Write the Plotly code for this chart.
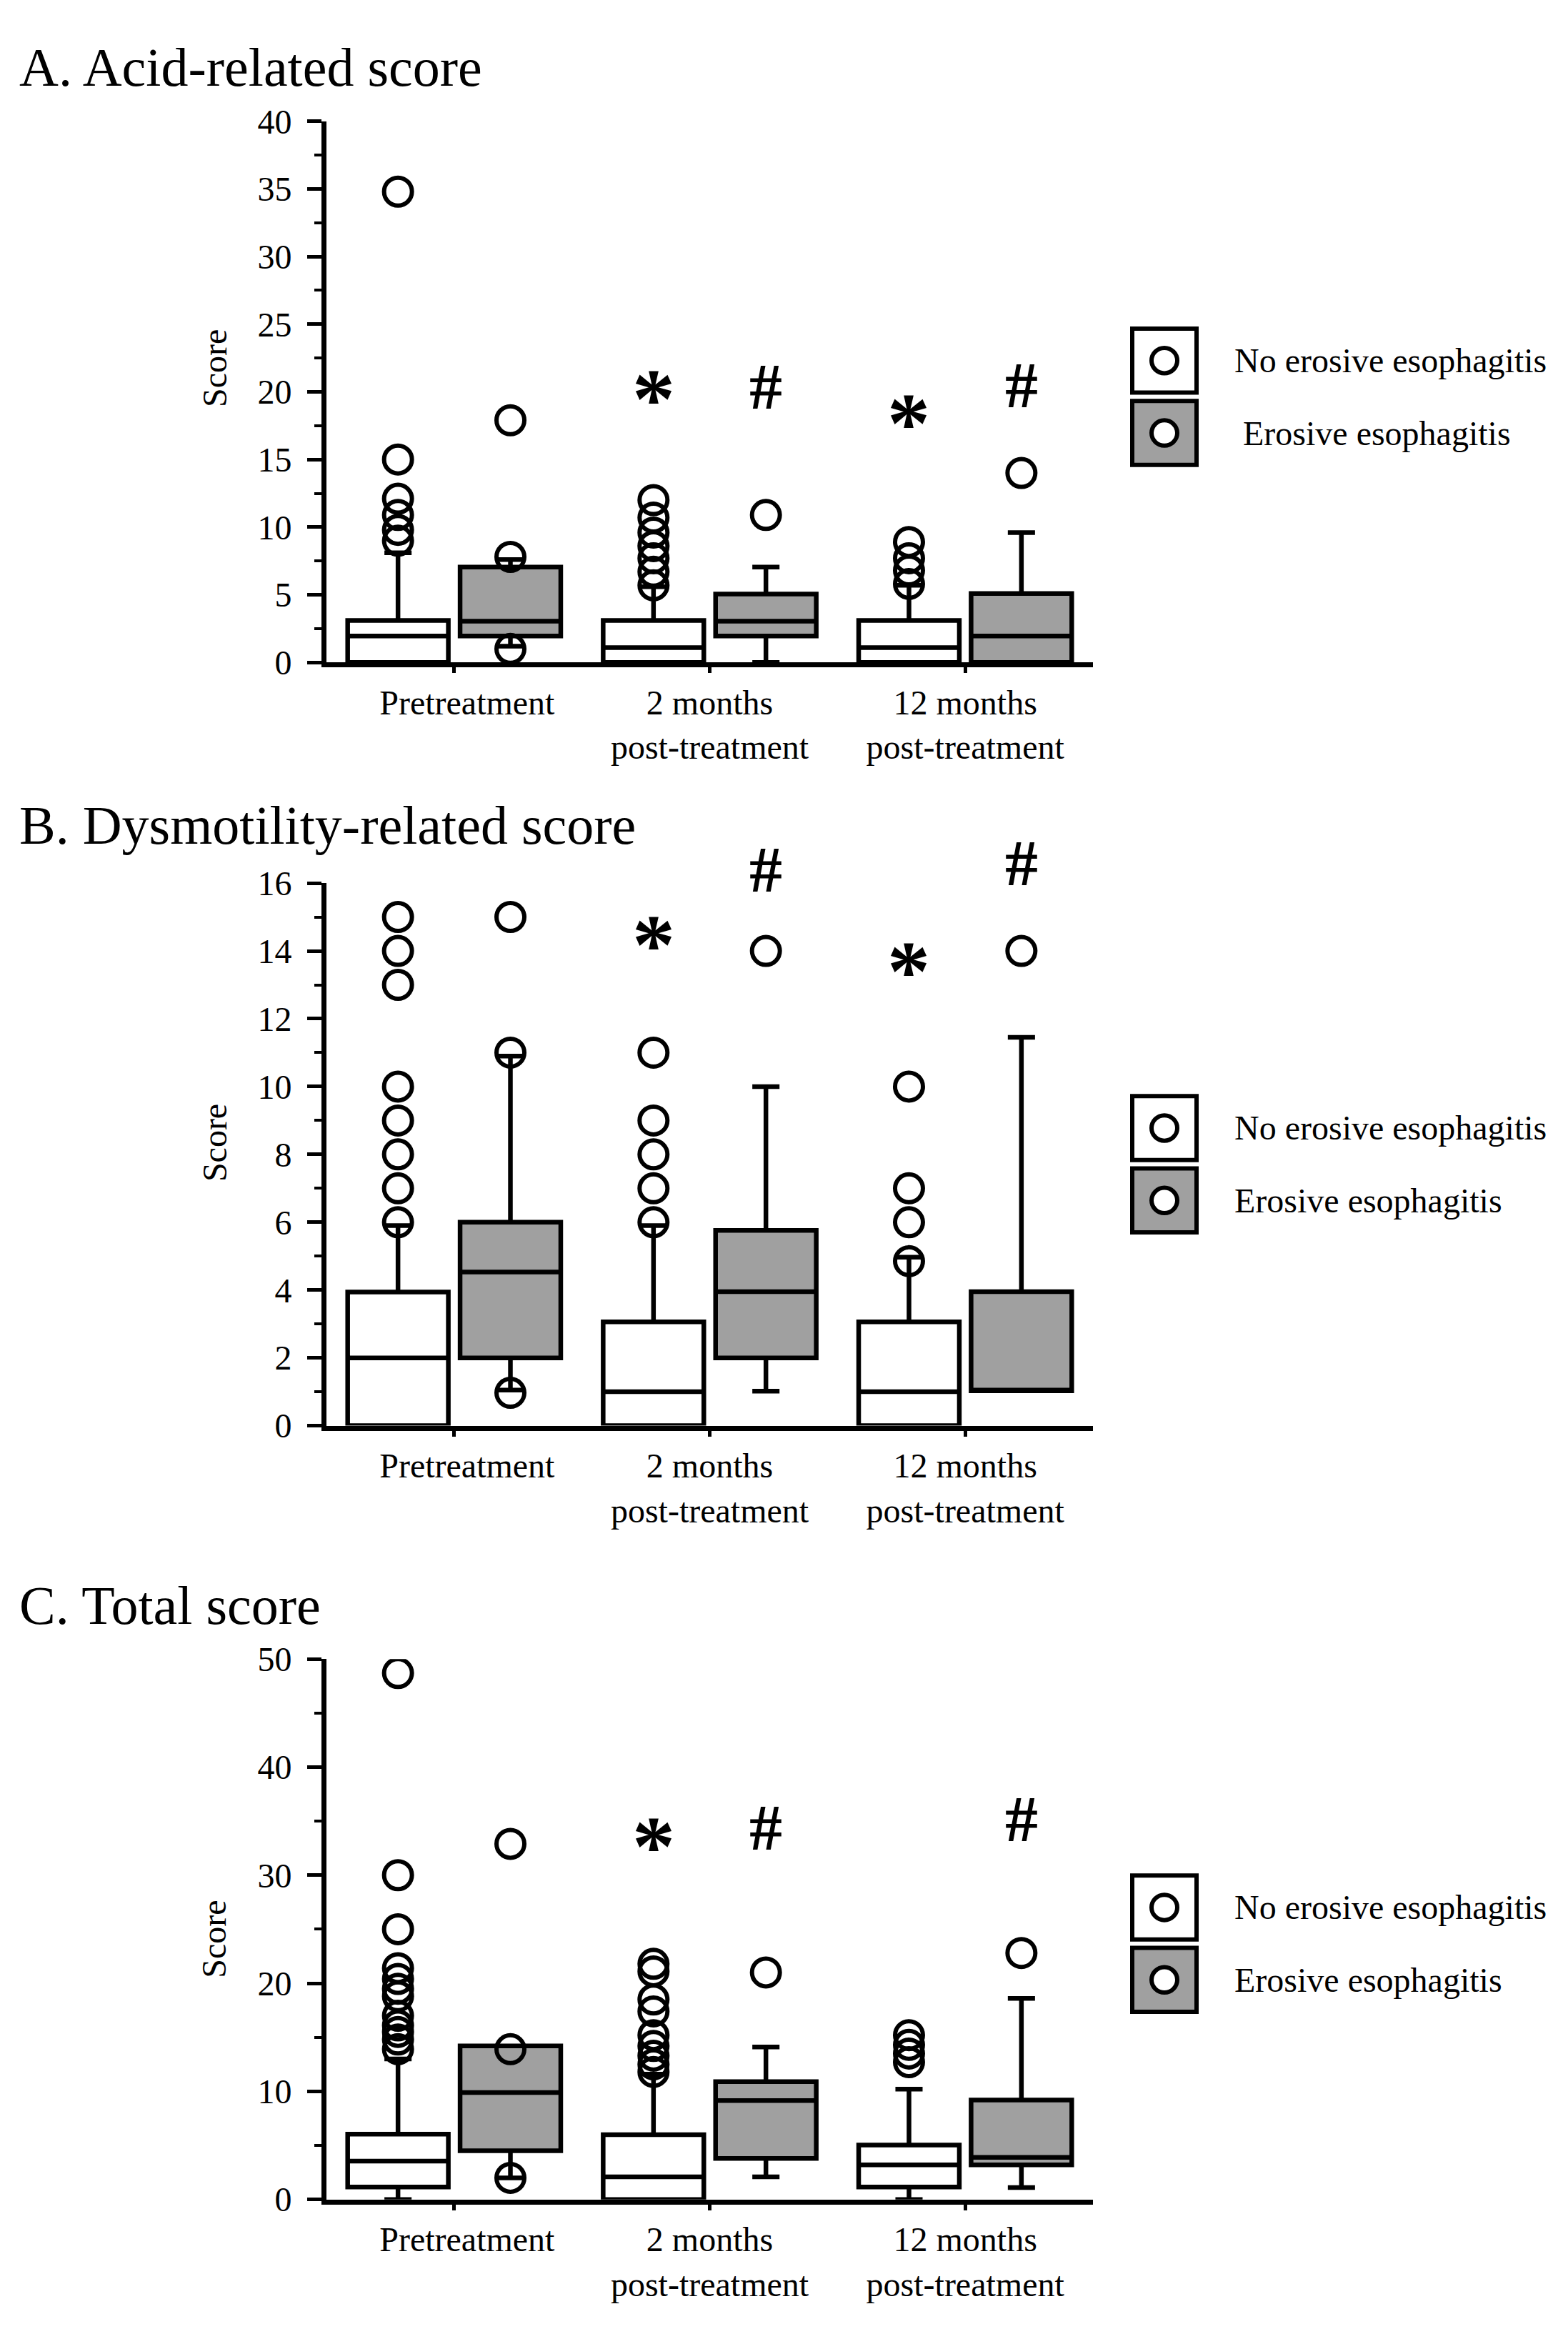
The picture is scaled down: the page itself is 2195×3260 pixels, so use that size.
import plotly.graph_objects as go

W, H = 2195, 3260

# ---------------- data ----------------
categories = ["\u00a0\u00a0\u00a0Pretreatment", "2 months<br>post-treatment", "12 months<br>post-treatment"]
series_names = ["No erosive esophagitis", "Erosive esophagitis"]

# Panel A: Acid-related score
a_no_q1 = [0, 0, 0]
a_no_median = [1.95, 1.1, 1.1]
a_no_q3 = [3.1, 3.1, 3.1]
a_no_lower = [0, 0, 0]
a_no_upper = [8.1, 5.6, 5.7]
a_no_outliers = [[9.0, 9.8, 10.9, 12.1, 15.0, 34.8],
                 [5.7, 6.7, 7.7, 8.6, 9.6, 10.7, 12.0],
                 [5.8, 6.8, 7.7, 8.9]]
a_ee_q1 = [1.95, 1.95, 0]
a_ee_median = [3.05, 3.05, 1.95]
a_ee_q3 = [7.05, 5.05, 5.1]
a_ee_lower = [1.2, 0, 0]
a_ee_upper = [7.6, 7.05, 9.6]
a_ee_outliers = [[1.0, 7.8, 17.9], [10.9], [14.0]]
a_star = [None, 20.2, 18.4]
a_hash = [None, 20.4, 20.5]

# Panel B: Dysmotility-related score
b_no_q1 = [0, 0, 0]
b_no_median = [2.0, 1.0, 1.0]
b_no_q3 = [3.94, 3.06, 3.06]
b_no_lower = [0, 0, 0]
b_no_upper = [5.9, 5.9, 4.97]
b_no_outliers = [[6, 7, 8, 9, 10, 13, 14, 15],
                 [6, 7, 8, 9, 11],
                 [4.85, 6, 7, 10]]
b_ee_q1 = [2.0, 2.0, 1.03]
b_ee_median = [4.53, 3.95, 1.03]
b_ee_q3 = [6.0, 5.76, 3.95]
b_ee_lower = [1.05, 1.02, 1.03]
b_ee_upper = [10.9, 10.0, 11.45]
b_ee_outliers = [[0.97, 11.0, 15.0], [14.0], [14.0]]
b_star = [None, 14.47, 13.7]
b_hash = [None, 16.4, 16.6]

# Panel C: Total score
c_no_q1 = [1.15, 0, 1.15]
c_no_median = [3.55, 2.1, 3.2]
c_no_q3 = [6.05, 6.0, 5.04]
c_no_lower = [0, 0, 0]
c_no_upper = [13.0, 11.6, 10.2]
c_no_outliers = [[13.9, 14.8, 15.5, 16.1, 17.0, 18.8, 19.5, 20.4, 21.4, 25.0, 30.0, 48.7],
                 [11.8, 12.5, 13.3, 14.2, 15.2, 17.4, 18.5, 21.1, 21.8],
                 [12.7, 13.5, 14.3, 15.2]]
c_ee_q1 = [4.5, 3.8, 3.2]
c_ee_median = [9.9, 9.15, 3.9]
c_ee_q3 = [14.2, 10.9, 9.2]
c_ee_lower = [2.0, 2.1, 1.1]
c_ee_upper = [14.2, 14.1, 18.6]
c_ee_outliers = [[2.0, 13.9, 32.9], [21.0], [22.8]]
c_star = [None, 33.6, None]
c_hash = [None, 34.4, 35.2]

panel_titles = ["A. Acid-related score", "B. Dysmotility-related score", "C. Total score"]
y_max = [40, 16, 50]
y_dtick = [5, 2, 10]
y_minor = [2.5, 1, 5]

# ---------------- styling / layout (pixels) ----------------
FONT = "Liberation Serif"
GRAY = "#A0A0A0"
OFF = 0.22          # offset of each box from category centre (category units)
BOXW = 0.394        # box width (category units)
PAGE_MARGIN = 8     # default <body> margin of the html page
X_LEFT, X_RIGHT = 457, 1530
PANEL_PX = [(146, 916), (1230, 2002), (2334, 3103)]   # (top, bottom) of each y axis
TITLE_Y = [69, 1148, 2258]
SCORE_Y = [498, 1600, 2733]
LEG_TOP = [441, 1533, 2642]
ee_legend_labels = ["\u00a0Erosive esophagitis", "Erosive esophagitis", "Erosive esophagitis"]


def px_x(v):
    return (v - PAGE_MARGIN) / W


def px_y(v):
    return 1 - (v - PAGE_MARGIN) / H


panels = [
    dict(no=(a_no_q1, a_no_median, a_no_q3, a_no_lower, a_no_upper, a_no_outliers),
         ee=(a_ee_q1, a_ee_median, a_ee_q3, a_ee_lower, a_ee_upper, a_ee_outliers),
         star=a_star, hash=a_hash),
    dict(no=(b_no_q1, b_no_median, b_no_q3, b_no_lower, b_no_upper, b_no_outliers),
         ee=(b_ee_q1, b_ee_median, b_ee_q3, b_ee_lower, b_ee_upper, b_ee_outliers),
         star=b_star, hash=b_hash),
    dict(no=(c_no_q1, c_no_median, c_no_q3, c_no_lower, c_no_upper, c_no_outliers),
         ee=(c_ee_q1, c_ee_median, c_ee_q3, c_ee_lower, c_ee_upper, c_ee_outliers),
         star=c_star, hash=c_hash),
]

fig = go.Figure()
annotations = []
shapes = []
layout = {}

for p, panel in enumerate(panels):
    sfx = "" if p == 0 else str(p + 1)
    xa, ya = "x" + sfx, "y" + sfx
    for key, offset, fill, name in (("no", -OFF, "white", series_names[0]),
                                    ("ee", OFF, GRAY, series_names[1])):
        q1, med, q3, lo, up, outl = panel[key]
        pos = [i + offset for i in range(len(categories))]
        fig.add_trace(go.Box(
            x=pos, q1=q1, median=med, q3=q3, lowerfence=lo, upperfence=up,
            width=BOXW, whiskerwidth=0.27, fillcolor=fill,
            line=dict(color="black", width=6.5), boxpoints=False,
            name=name, showlegend=False, hoverinfo="skip",
            xaxis=xa, yaxis=ya))
        ox, oy = [], []
        for i, vals in enumerate(outl):
            for v in vals:
                ox.append(i + offset)
                oy.append(v)
        fig.add_trace(go.Scatter(
            x=ox, y=oy, mode="markers", showlegend=False, hoverinfo="skip",
            marker=dict(symbol="circle-open", size=39, color="black",
                        line=dict(width=6, color="black")),
            xaxis=xa, yaxis=ya))

    # significance marks
    for i, v in enumerate(panel["star"]):
        if v is not None:
            annotations.append(dict(
                x=i - OFF, y=v / y_max[p], xref=xa, yref=ya + " domain",
                text="*", showarrow=False, yanchor="middle", yshift=-14,
                font=dict(family=FONT, size=120, color="black", weight="bold")))
    for i, v in enumerate(panel["hash"]):
        if v is not None:
            annotations.append(dict(
                x=i + OFF, y=v / y_max[p], xref=xa, yref=ya + " domain",
                text="#", showarrow=False, yanchor="middle",
                font=dict(family=FONT, size=92, color="black", weight="bold")))

    top, bot = PANEL_PX[p]
    layout["xaxis" + sfx] = dict(
        domain=[px_x(X_LEFT), px_x(X_RIGHT)], anchor=ya, range=[-0.5, 2.5],
        tickvals=list(range(len(categories))), ticktext=categories,
        ticks="outside", ticklen=8, tickwidth=5, tickcolor="black",
        showline=True, linewidth=7, linecolor="black",
        showgrid=False, zeroline=False,
        tickfont=dict(family=FONT, size=48, color="black"))
    layout["yaxis" + sfx] = dict(
        domain=[px_y(bot), px_y(top)], anchor=xa, range=[0, y_max[p]],
        dtick=y_dtick[p], tick0=0, ticks="outside", ticklen=20, tickwidth=5,
        tickcolor="black", showline=True, linewidth=7, linecolor="black",
        showgrid=False, zeroline=False, ticklabelstandoff=12,
        minor=dict(ticks="outside", ticklen=10, tickwidth=4, tickcolor="black",
                   dtick=y_minor[p], tick0=0, showgrid=False),
        tickfont=dict(family=FONT, size=48, color="black"))

    # panel title
    annotations.append(dict(
        x=px_x(25), y=px_y(TITLE_Y[p]), xref="paper", yref="paper",
        xanchor="left", yanchor="middle", text=panel_titles[p], showarrow=False,
        font=dict(family=FONT, size=76, color="black")))
    # y axis title
    annotations.append(dict(
        x=px_x(300), y=px_y(SCORE_Y[p]), xref="paper", yref="paper",
        xanchor="center", yanchor="middle", text="Score", textangle=-90,
        showarrow=False, font=dict(family=FONT, size=48, color="black")))

    # legend (drawn)
    lt = LEG_TOP[p]
    for k, (fill, label) in enumerate((("white", series_names[0]),
                                       (GRAY, ee_legend_labels[p]))):
        y0 = lt + k * 103
        y1 = y0 + 91
        x0, x1 = 1585, 1675
        shapes.append(dict(type="rect", xref="paper", yref="paper",
                           x0=px_x(x0), x1=px_x(x1), y0=px_y(y1), y1=px_y(y0),
                           fillcolor=fill, line=dict(color="black", width=6)))
        cx, cy, r = (x0 + x1) / 2, (y0 + y1) / 2, 18
        shapes.append(dict(type="circle", xref="paper", yref="paper",
                           x0=px_x(cx - r), x1=px_x(cx + r),
                           y0=px_y(cy + r), y1=px_y(cy - r),
                           fillcolor="white", line=dict(color="black", width=6)))
        annotations.append(dict(
            x=px_x(1726), y=px_y(cy), xref="paper", yref="paper",
            xanchor="left", yanchor="middle", text=label, showarrow=False,
            font=dict(family=FONT, size=48, color="black")))

fig.update_layout(
    width=W, height=H, autosize=False,
    margin=dict(l=0, r=0, t=0, b=0),
    paper_bgcolor="white", plot_bgcolor="white",
    font=dict(family=FONT, color="black"),
    boxmode="overlay", showlegend=False,
    annotations=annotations, shapes=shapes,
    **layout)

fig.write_html("out.html")
